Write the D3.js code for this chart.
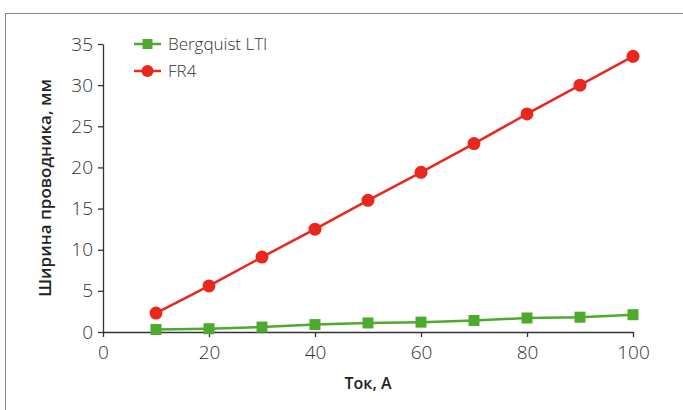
<!DOCTYPE html>
<html>
<head>
<meta charset="utf-8">
<script src="https://cdn.jsdelivr.net/npm/d3@7"></script>
<style>
  body { margin: 0; background: #fff; }
</style>
</head>
<body>
<div id="chart"></div>
<script>
// data
const current = [10, 20, 30, 40, 50, 60, 70, 80, 90, 100];
const bergquist = [0.3, 0.4, 0.6, 0.9, 1.1, 1.2, 1.4, 1.7, 1.8, 2.1];
const fr4 = [2.3, 5.6, 9.1, 12.5, 16.0, 19.4, 22.9, 26.5, 30.0, 33.5];
const xTicks = [0, 20, 40, 60, 80, 100];
const yTicks = [0, 5, 10, 15, 20, 25, 30, 35];

const W = 683, H = 410;
const margin = { top: 44, right: 50, bottom: 78, left: 103 };
const width = W - margin.left - margin.right;
const height = H - margin.top - margin.bottom;

const svg = d3.select("#chart").append("svg")
  .attr("width", W)
  .attr("height", H);

// frame
svg.append("rect")
  .attr("x", 5.5).attr("y", 13.5)
  .attr("width", W + 10).attr("height", H + 10)
  .attr("fill", "none")
  .attr("stroke", "#8a8a8a")
  .attr("stroke-width", 1);

const g = svg.append("g")
  .attr("transform", "translate(" + margin.left + "," + margin.top + ")");

const x = d3.scaleLinear().domain([0, 100]).range([0, width]);
const y = d3.scaleLinear().domain([0, 35]).range([height, 0]);

const tickFont = "'Open Sans', sans-serif";

// x axis
const xAxis = g.append("g")
  .attr("transform", "translate(0," + height + ")")
  .call(d3.axisBottom(x).tickValues(xTicks).tickSize(5).tickSizeOuter(0).tickPadding(9));
xAxis.select(".domain").attr("stroke", "#333").attr("stroke-width", 1.3);
xAxis.selectAll(".tick line").attr("stroke", "#333").attr("stroke-width", 1.3);
xAxis.selectAll("text")
  .style("font-family", tickFont)
  .style("font-size", "19px")
  .style("font-weight", "300")
  .attr("fill", "#333");

// y axis
const yAxis = g.append("g")
  .call(d3.axisLeft(y).tickValues(yTicks).tickSize(5).tickSizeOuter(0).tickPadding(5));
yAxis.select(".domain").attr("stroke", "#333").attr("stroke-width", 1.3);
yAxis.selectAll(".tick line").attr("stroke", "#333").attr("stroke-width", 1.3);
yAxis.selectAll("text")
  .style("font-family", tickFont)
  .style("font-size", "19px")
  .style("font-weight", "300")
  .attr("fill", "#333");

// axis titles
g.append("text")
  .attr("x", width / 2)
  .attr("y", height + 57)
  .attr("text-anchor", "middle")
  .style("font-family", tickFont)
  .style("font-size", "16px")
  .style("font-weight", "600")
  .attr("fill", "#222")
  .text("Ток, А");

g.append("text")
  .attr("transform", "translate(-52," + (height / 2) + ") rotate(-90)")
  .attr("text-anchor", "middle")
  .style("font-family", tickFont)
  .style("font-size", "17px")
  .style("font-weight", "600")
  .attr("fill", "#222")
  .text("Ширина проводника, мм");

const red = "#e8281f", green = "#4eaa2c";

const line = d3.line()
  .x((d, i) => x(current[i]))
  .y(d => y(d));

// FR4
g.append("path")
  .datum(fr4)
  .attr("d", line)
  .attr("fill", "none")
  .attr("stroke", red)
  .attr("stroke-width", 2.5);

g.selectAll(".fr4")
  .data(fr4)
  .enter().append("circle")
  .attr("class", "fr4")
  .attr("cx", (d, i) => x(current[i]))
  .attr("cy", d => y(d))
  .attr("r", 6.5)
  .attr("fill", red);

// Bergquist
g.append("path")
  .datum(bergquist)
  .attr("d", line)
  .attr("fill", "none")
  .attr("stroke", green)
  .attr("stroke-width", 2.5);

g.selectAll(".berg")
  .data(bergquist)
  .enter().append("rect")
  .attr("class", "berg")
  .attr("x", (d, i) => x(current[i]) - 5.5)
  .attr("y", d => y(d) - 5.5)
  .attr("width", 11)
  .attr("height", 11)
  .attr("fill", green);

// legend
const legend = svg.append("g").attr("transform", "translate(134,44)");
const items = [
  { name: "Bergquist LTI", color: green, shape: "square" },
  { name: "FR4", color: red, shape: "circle" }
];
items.forEach((it, i) => {
  const row = legend.append("g").attr("transform", "translate(0," + (i * 27) + ")");
  row.append("line")
    .attr("x1", 0).attr("x2", 27)
    .attr("stroke", it.color).attr("stroke-width", 2.5);
  if (it.shape === "circle") {
    row.append("circle").attr("cx", 13.5).attr("r", 6).attr("fill", it.color);
  } else {
    row.append("rect").attr("x", 8.5).attr("y", -5).attr("width", 10).attr("height", 10).attr("fill", it.color);
  }
  row.append("text")
    .attr("x", 34)
    .attr("dy", "0.35em")
    .style("font-family", tickFont)
    .style("font-size", "17px")
    .style("font-weight", "300")
    .attr("fill", "#333")
    .text(it.name);
});
</script>
</body>
</html>
